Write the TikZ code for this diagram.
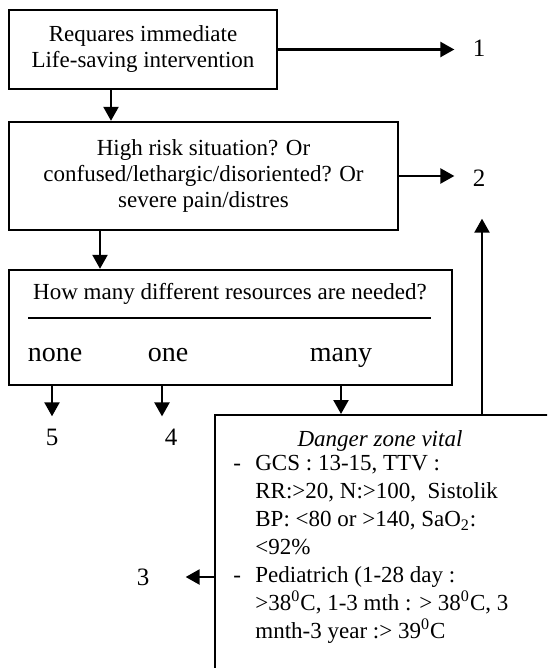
\documentclass[tikz,border=0pt]{standalone}
\usepackage{fontspec}
\setmainfont{Liberation Serif}
\usetikzlibrary{arrows.meta}

\begin{document}
\begin{tikzpicture}[x=0.5pt, y=-0.5pt, font=\fontsize{11.5}{13}\selectfont]
        \tikzstyle{box} = [draw, line width=1.2pt, inner sep=0pt, align=center]
        \tikzstyle{lbl} = [inner sep=2pt]
        \tikzstyle{num} = [inner sep=2pt, font=\fontsize{12.5}{14}\selectfont]
        \tikzstyle{flow} = [-{Triangle[length=7pt, width=7.5pt]}, line width=1.2pt]
        \useasboundingbox (0,0) rectangle (547,668);
        \clip (0,0) rectangle (547,668);
        % boxes
        \node[box, minimum width=134pt, minimum height=39.5pt] (B1) at (143,49.5) {Requares immediate\\Life-saving intervention};
        \node[box, minimum width=194.5pt, minimum height=54pt] (B2) at (203.5,176) {High risk situation? Or\\confused/lethargic/disoriented? Or\\severe pain/distres};
        \node[box, minimum width=221.5pt, minimum height=57.5pt] (B3) at (230.5,327.5) {};
        \node[lbl] (Q3) at (230,294) {How many different resources are needed?};
        \draw[line width=0.9pt] (28,318) -- (431,318);
        \node[lbl, anchor=base, font=\fontsize{14}{16}\selectfont] (none) at (55,361) {none};
        \node[lbl, anchor=base, font=\fontsize{14}{16}\selectfont] (one) at (168,361) {one};
        \node[lbl, anchor=base, font=\fontsize{14}{16}\selectfont] (many) at (341,361) {many};
        \node[box, anchor=north west, minimum width=180pt, minimum height=140pt] (D) at (214,414) {};
        \node[lbl, font=\fontsize{11.5}{13}\itshape] (Dtitle) at (380,441) {Danger zone vital};
        \node[anchor=north west, align=left, inner sep=0pt, font=\fontsize{11.5}{14}\selectfont] (Dlist) at (233,455)
        {\makebox[11pt][l]{-}GCS : 13-15, TTV :\\
         \hspace*{11pt}RR:>20, N:>100, \ Sistolik\\
         \hspace*{11pt}BP: <80 or >140, SaO\textsubscript{2}:\\
         \hspace*{11pt}<92\%\\
         \makebox[11pt][l]{-}Pediatrich (1-28 day :\\
         \hspace*{11pt}>38\textsuperscript{0}C, 1-3 mth : > 38\textsuperscript{0}C, 3\\
         \hspace*{11pt}mnth-3 year :> 39\textsuperscript{0}C};
        % levels
        \node[num] (n1) at (479,48) {1};
        \node[num] (n2) at (479,178) {2};
        \node[num] (n3) at (143,577) {3};
        \node[num] (n4) at (171,437) {4};
        \node[num] (n5) at (52,437) {5};
        % arrows
        \draw[flow, shorten >=7pt] (B1.east) -- (B1.east -| n1.west);
        \draw[flow, shorten >=7pt] (B2.east) -- (B2.east -| n2.west);
        \draw[flow] ([xshift=-16pt]B1.south) -- ([xshift=-16pt]B1.south |- B2.north);
        \draw[flow] ([xshift=-51.75pt]B2.south) -- ([xshift=-51.75pt]B2.south |- B3.north);
        \draw[flow, shorten >=4pt] (n5 |- B3.south) -- (n5.north);
        \draw[flow, shorten >=4pt] ([xshift=-4.5pt]n4.north |- B3.south) -- ([xshift=-4.5pt]n4.north);
        \draw[flow] (many |- B3.south) -- (many |- D.north);
        \draw[flow, shorten >=14pt] ([xshift=1.5pt]n2.south |- D.north) -- ([xshift=1.5pt]n2.south);
        \draw[flow, shorten >=16pt] (n3 -| D.west) -- (n3.east);
    \end{tikzpicture}
\end{document}
